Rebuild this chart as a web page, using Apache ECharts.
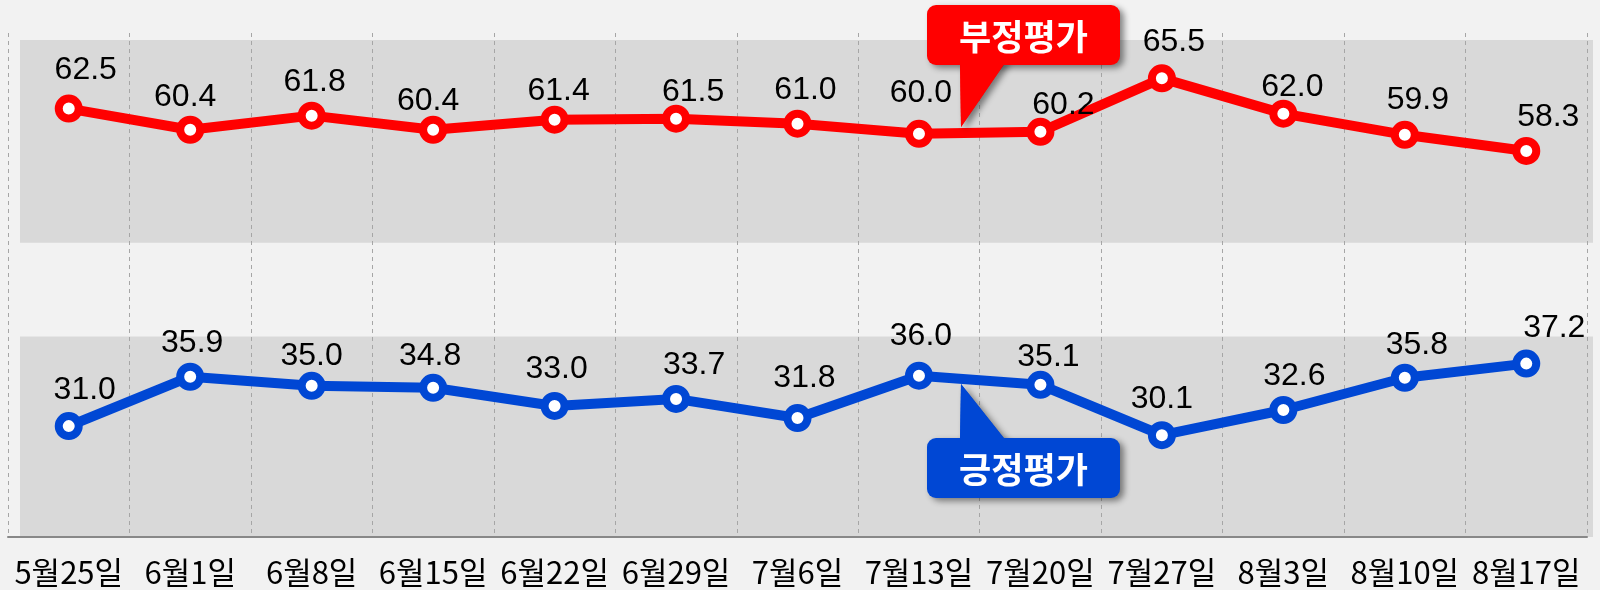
<!DOCTYPE html>
<html>
<head>
<meta charset="utf-8">
<style>
  html, body { margin: 0; padding: 0; background: #f2f2f2; }
  #chart { width: 1600px; height: 590px; }
</style>
<script src="https://cdn.jsdelivr.net/npm/echarts@6/dist/echarts.min.js"></script>
</head>
<body>
<div id="chart"></div>
<script>
// 조사 날짜
const dates = ['5월25일', '6월1일', '6월8일', '6월15일', '6월22일', '6월29일', '7월6일', '7월13일', '7월20일', '7월27일', '8월3일', '8월10일', '8월17일']
// 부정평가
const negative = [62.5, 60.4, 61.8, 60.4, 61.4, 61.5, 61.0, 60.0, 60.2, 65.5, 62.0, 59.9, 58.3]
// 긍정평가
const positive = [31.0, 35.9, 35.0, 34.8, 33.0, 33.7, 31.8, 36.0, 35.1, 30.1, 32.6, 35.8, 37.2]

// 라벨 위치 보정 (px)
const negShift = [[17, -38], [-5, -33], [3, -33], [-5, -29], [4, -29], [17, -27], [8, -34], [2, -41], [23, -27], [12, -36], [9, -26], [13, -35], [22, -34]]
const posShift = [[16, -36], [2, -34], [0, -30], [-3, -32], [2, -37], [18, -34], [7, -40], [2, -40], [8, -28], [0, -36], [11, -34], [12, -33], [28, -35]]

const RED = '#ff0000'
const BLUE = '#0047d4'
const SHADOW = { shadowBlur: 6, shadowOffsetX: 4, shadowOffsetY: 3, shadowColor: 'rgba(0,0,0,0.45)' }

function lineSeries(name, values, shift, color) {
  return {
    name: name,
    type: 'line',
    z: 3,
    data: values.map((v, i) => ({ value: v, label: { offset: shift[i] } })),
    symbol: 'circle',
    symbolSize: 20,
    lineStyle: { color: color, width: 10 },
    itemStyle: { color: '#fff', borderColor: color, borderWidth: 8 },
    label: {
      show: true,
      position: 'inside',
      formatter: p => p.value.toFixed(1),
      color: '#000',
      fontSize: 32,
      fontFamily: 'Liberation Sans, Arial, sans-serif'
    },
    emphasis: { disabled: true }
  }
}

// 말풍선 (사각형 + 꼬리 + 글자)
function callout(text, color, box, tail, textY) {
  return [
    { type: 'polygon', z: 100, shape: { points: tail }, style: Object.assign({ fill: color }, SHADOW) },
    { type: 'rect', z: 101, shape: Object.assign({ r: 9 }, box), style: Object.assign({ fill: color }, SHADOW) },
    { type: 'polygon', z: 102, shape: { points: tail }, style: { fill: color } },
    {
      type: 'text', z: 103, x: box.x + box.width / 2, y: textY,
      style: {
        text: text, fill: '#fff', fontSize: 35, fontWeight: 'bold',
        fontFamily: 'Noto Sans CJK KR, sans-serif', align: 'center', verticalAlign: 'middle'
      }
    }
  ]
}

const myChart = echarts.init(document.querySelector('#chart'))

const option = {
  backgroundColor: '#f2f2f2',
  animation: false,
  grid: { left: 8, right: 13, top: 33, bottom: 53 },
  xAxis: {
    type: 'category',
    z: 2,
    data: dates,
    boundaryGap: true,
    axisLine: { lineStyle: { color: '#888', width: 2 } },
    axisTick: { interval: 0, length: 9, lineStyle: { color: '#888', width: 2 } },
    axisLabel: {
      interval: 0,
      color: '#000',
      fontSize: 31,
      margin: 20,
      fontFamily: 'Noto Sans CJK KR, sans-serif'
    },
    splitLine: {
      show: true,
      interval: 0,
      lineStyle: { color: '#a6a6a6', type: [4, 4], width: 1 }
    }
  },
  yAxis: {
    type: 'value',
    min: 20,
    max: 70,
    show: false,
    splitLine: { show: false }
  },
  series: [
    {
      // 회색 배경 영역
      type: 'line',
      data: [],
      z: 1,
      silent: true,
      markArea: {
        silent: true,
        itemStyle: { color: '#d9d9d9' },
        data: []
      }
    },
    lineSeries('부정평가', negative, negShift, RED),
    lineSeries('긍정평가', positive, posShift, BLUE)
  ],
  graphic: [
    ...callout('부정평가', RED, { x: 927, y: 5, width: 193, height: 60 }, [[960, 60], [1007, 60], [961, 127]], 37),
    ...callout('긍정평가', BLUE, { x: 927, y: 438, width: 193, height: 60 }, [[960, 442], [1007, 442], [961, 384]], 470)
  ]
}

myChart.setOption(option)

// 회색 띠: 세로는 y축 값, 가로는 원본처럼 좌우로 조금 안쪽/바깥쪽
const py = v => myChart.convertToPixel({ yAxisIndex: 0 }, v)
const band = (lo, hi) => [{ x: 20, y: py(hi) }, { x: 1593, y: py(lo) }]
myChart.setOption({
  series: [{ markArea: { data: [band(49.2, 69.3), band(20, 39.9)] } }]
})
</script>
</body>
</html>
